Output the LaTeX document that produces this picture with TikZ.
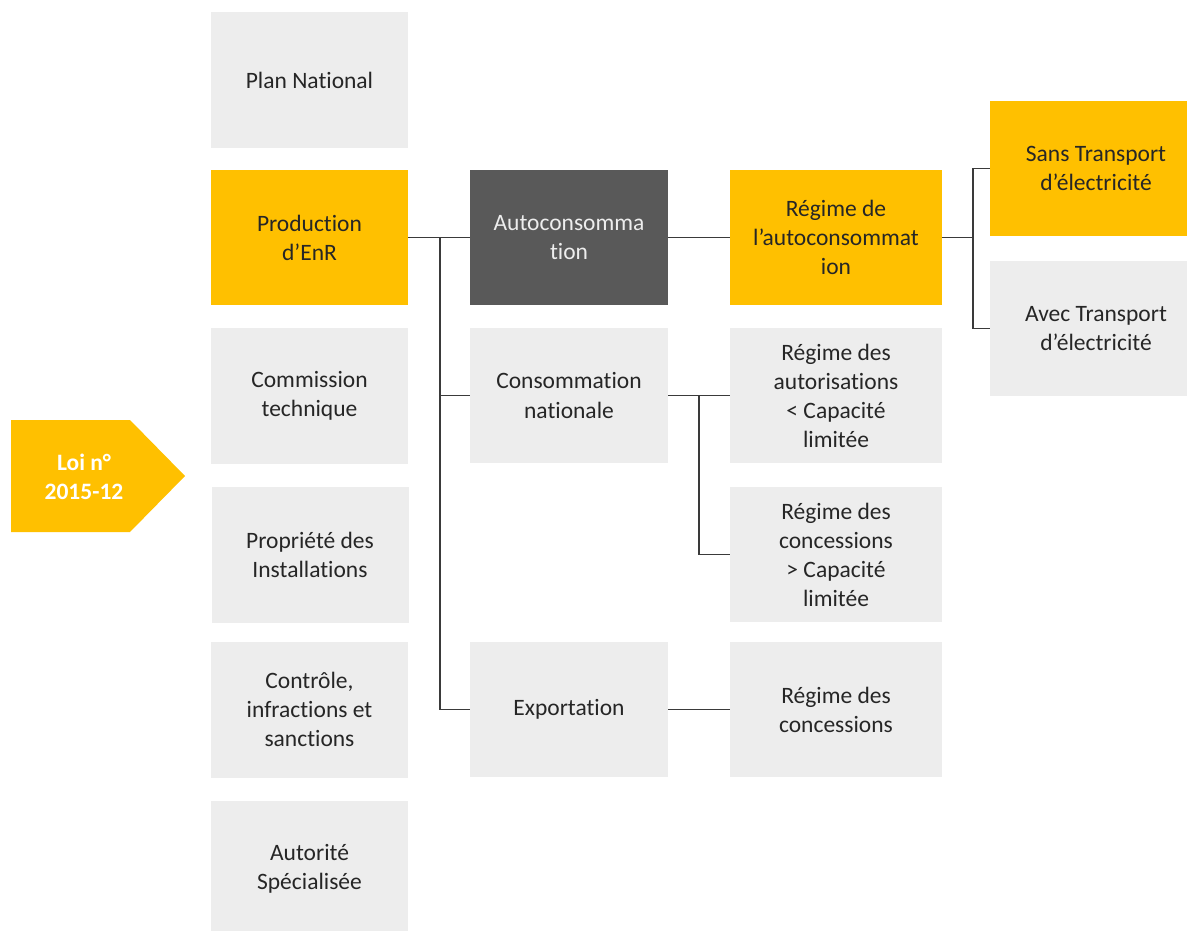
\documentclass[tikz,border=0pt]{standalone}
\usepackage{fontspec}
\setmainfont{Carlito}[Ligatures={NoCommon}]
\definecolor{yel}{HTML}{FFC000}
\definecolor{lgr}{HTML}{EDEDED}
\definecolor{dgr}{HTML}{595959}
\definecolor{txt}{HTML}{262626}
\definecolor{ln}{HTML}{3A3A3A}
\tikzset{
  box/.style={inner sep=0pt, align=center, text=txt, font=\fontsize{23.5}{29}\selectfont},
  g1/.style={box, fill=lgr, minimum width=197pt, minimum height=136pt},
  y1/.style={box, fill=yel, minimum width=197pt, minimum height=135pt},
  g2/.style={box, fill=lgr, minimum width=198pt, minimum height=135pt},
  g3/.style={box, fill=lgr, minimum width=212pt, minimum height=135pt},
  conn/.style={draw=ln, line width=1.3pt},
}
\begin{document}
\begin{tikzpicture}[x=1pt,y=-1pt]
\useasboundingbox (0,0) rectangle (1187,931);
% column 1
\node[g1] (plan) at (309.5,80) {Plan National};
\node[y1] (prod) at (309.5,237.5) {Production\\d’EnR};
\node[g1] (comm) at (309.5,395.5) {Commission\\technique};
\node[g1] (prop) at (310,554.5) {Propriété des\\Installations};
\node[g1] (ctrl) at (309.5,709.5) {Contrôle,\\infractions et\\sanctions};
\node[g1] (aut) at (309.5,869) {Autorité\\Spécialisée};
% column 2
\node[g2, fill=dgr, text=lgr] (autoc) at (569,237.5) {Autoconsomma\\tion};
\node[g2] (cons) at (569,395.5) {Consommation\\nationale};
\node[g2] (exp) at (569,709.5) {Exportation};
% column 3
\node[g3, fill=yel, minimum height=134pt] (reg) at (836,237.5) {Régime de\\l’autoconsommat\\ion};
\node[g3] (autor) at (836,395.5) {Régime des\\autorisations\\< Capacité\\limitée};
\node[g3] (conc1) at (836,554.5) {Régime des\\concessions\\> Capacité\\limitée};
\node[g3] (conc2) at (836,709.5) {Régime des\\concessions};
% column 4
\node[g3, fill=yel] (sans) at (1096,168.5) {Sans Transport\\d’électricité};
\node[g3] (avec) at (1096,328.5) {Avec Transport\\d’électricité};
% arrow
\fill[yel] (11,420) -- (130,420) -- (185,476) -- (130,532) -- (11,532) -- cycle;
\node[box, text=white, font=\fontsize{23.5}{28.5}\selectfont\bfseries] (loi) at (84,477) {Loi n°\\2015-12};
% connectors
\draw[conn] (prod.east) -- (autoc.west);
\coordinate (j1) at (440,237.5);
\draw[conn] (j1) |- (cons.west);
\draw[conn] (j1) |- (exp.west);
\draw[conn] (autoc.east) -- (reg.west);
\coordinate (j2) at (973,237.5);
\draw[conn] (reg.east) -- (j2);
\draw[conn] (sans.west) -| (j2 |- avec.west) -- (avec.west);
\draw[conn] (cons.east) -- (autor.west);
\coordinate (j3) at (699,395.5);
\draw[conn] (j3) |- (conc1.west);
\draw[conn] (exp.east) -- (conc2.west);
\end{tikzpicture}
\end{document}
